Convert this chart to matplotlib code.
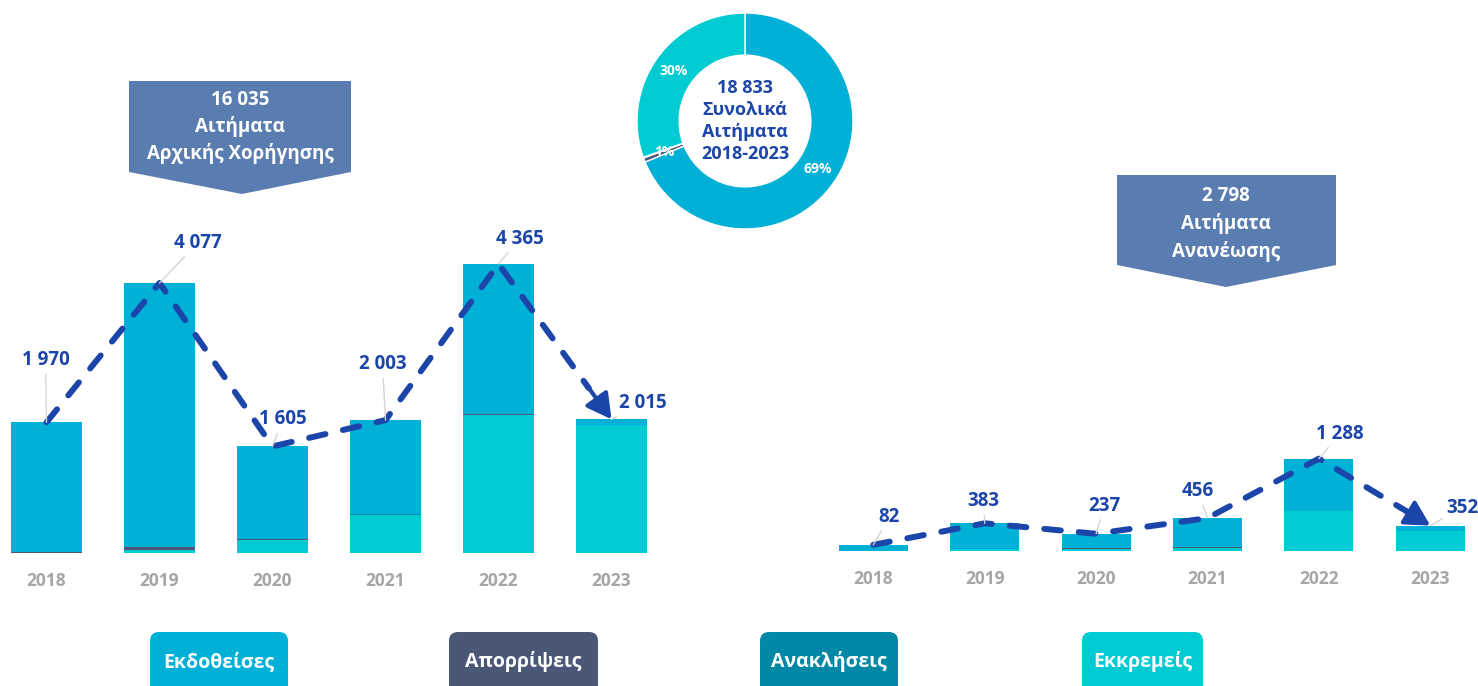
"""Αιτήματα αρχικής χορήγησης / ανανέωσης 2018-2023 - stacked bars, trend line and donut."""

import numpy as np
import matplotlib
matplotlib.use('Agg')
import matplotlib.pyplot as plt
from matplotlib import font_manager
from matplotlib.patches import Polygon, FancyBboxPatch

# pick the first family that really has a bold face installed
bold_family = 'DejaVu Sans'
for fam in ['Open Sans', 'Noto Sans', 'Lato', 'Roboto']:
    try:
        path = font_manager.findfont(font_manager.FontProperties(family=fam, weight='bold'),
                                     fallback_to_default=False)
        if 'bold' in path.lower():
            bold_family = fam
            break
    except Exception:
        pass
plt.rcParams['font.family'] = [bold_family, 'DejaVu Sans']

# ---------------------------------------------------------------------------
# Data

years = ['2018', '2019', '2020', '2021', '2022', '2023']

# initial grant requests (Αρχικής Χορήγησης)
init_issued = [1955, 3987, 1395, 1423, 2270, 80]
init_rejected = [15, 45, 15, 0, 15, 0]
init_revoked = [0, 0, 0, 20, 0, 0]
init_pending = [0, 45, 195, 560, 2080, 1935]

# renewal requests (Ανανέωσης)
ren_issued = [82, 358, 202, 401, 733, 72]
ren_rejected = [0, 0, 15, 15, 0, 0]
ren_revoked = [0, 0, 0, 0, 0, 0]
ren_pending = [0, 25, 20, 40, 555, 280]

categories = ['Εκδοθείσες', 'Απορρίψεις', 'Ανακλήσεις', 'Εκκρεμείς']

# ---------------------------------------------------------------------------
# Styling

W, H = 1478, 686
c_issued = '#00B0D6'
c_rejected = '#4A5776'
c_revoked = '#0088A6'
c_pending = '#00CAD2'
c_callout = '#5A7DB1'
c_blue = '#1C45AA'
c_year = '#A6A6A6'
cat_colors = [c_issued, c_rejected, c_revoked, c_pending]

# label offsets from the bar top, in pixels (dx, dy)
init_offsets = [(-1, 62), (38, 40), (10, 27), (-3, 56), (21, 25), (31, 16)]
ren_offsets = [(16, 28), (-1, 22), (8, 28), (-10, 27), (21, 25), (32, 18)]


def fmt(v):
    return f'{int(v):,}'.replace(',', ' ')


fig = plt.figure(figsize=(W / 100, H / 100), dpi=100)

# overlay in pixel coordinates for the callouts and legend boxes
ov = fig.add_axes([0, 0, 1, 1])
ov.set_xlim(0, W)
ov.set_ylim(H, 0)
ov.axis('off')


def draw_panel(ax, issued, rejected, revoked, pending, offsets):
    x = np.arange(len(years))
    bottom = np.zeros(len(years))
    for vals, col in [(pending, c_pending), (rejected, c_rejected),
                      (revoked, c_revoked), (issued, c_issued)]:
        vals = np.array(vals, dtype=float)
        ax.bar(x, vals, width=0.62, bottom=bottom, color=col, zorder=2)
        bottom += vals
    totals = bottom

    # dashed trend line ending in an arrow on the last year
    xe = x[-2] + 0.8 * (x[-1] - x[-2])
    ye = totals[-2] + 0.8 * (totals[-1] - totals[-2])
    ax.plot(list(x[:-1]) + [xe], list(totals[:-1]) + [ye], color=c_blue, lw=4.3,
            dashes=(2.8, 3.0), dash_capstyle='round', zorder=4)
    ax.annotate('', xy=(x[-1], totals[-1]), xytext=(xe, ye),
                arrowprops=dict(arrowstyle='-|>,head_length=1.0,head_width=0.55',
                                color=c_blue, lw=3, shrinkA=0, shrinkB=0,
                                mutation_scale=15), zorder=5)

    for i, t in enumerate(totals):
        ax.annotate(fmt(t), xy=(i, t), xytext=offsets[i], textcoords='offset pixels',
                    ha='center', va='center', fontsize=13.5, fontweight='bold',
                    color=c_blue, zorder=6,
                    arrowprops=dict(arrowstyle='-', color='#D5D5D5', lw=1,
                                    shrinkA=1, shrinkB=0))

    ax.set_xticks(x, years)
    ax.tick_params(length=0, pad=14, labelsize=12.5, labelcolor=c_year)
    for lab in ax.get_xticklabels():
        lab.set_fontweight('bold')
    ax.set_yticks([])
    for s in ax.spines.values():
        s.set_visible(False)
    ax.patch.set_visible(False)
    return totals


# ---------------------------------------------------------------------------
# Left panel: initial grant
axl = fig.add_axes([1.3 / W, (H - 552.5) / H, 666.7 / W, 317.3 / H])
axl.set_xlim(-0.4, 5.5)
axl.set_ylim(0, 4800)
init_tot = draw_panel(axl, init_issued, init_rejected, init_revoked, init_pending,
                      init_offsets)

# Right panel: renewal
axr = fig.add_axes([817.6 / W, (H - 550.7) / H, 668.4 / W, 100.1 / H])
axr.set_xlim(-0.5, 5.5)
axr.set_ylim(0, 1400)
ren_tot = draw_panel(axr, ren_issued, ren_rejected, ren_revoked, ren_pending,
                     ren_offsets)

# ---------------------------------------------------------------------------
# Donut of all requests
donut_vals = [sum(init_issued) + sum(ren_issued),
              sum(init_rejected) + sum(ren_rejected),
              sum(init_revoked) + sum(ren_revoked),
              sum(init_pending) + sum(ren_pending)]
total_all = sum(donut_vals)

dax = fig.add_axes([(745 - 108) / W, (H - 229) / H, 216 / W, 216 / H])
dax.pie(donut_vals, colors=cat_colors, startangle=90, counterclock=False,
        wedgeprops=dict(width=0.39, edgecolor='white', lw=1),
        autopct=lambda p: f'{p:.0f}%' if p >= 0.5 else '', pctdistance=0.805,
        textprops=dict(color='white', fontsize=10, fontweight='bold'))
dax.set_xlim(-1, 1)
dax.set_ylim(-1, 1)
dax.text(0, 0, f'{fmt(total_all)}\nΣυνολικά\nΑιτήματα\n2018-2023', ha='center',
         va='center', fontsize=13, fontweight='bold', color=c_blue, linespacing=1.3)

# ---------------------------------------------------------------------------
# Callouts
ov.add_patch(Polygon([(129, 81), (351, 81), (351, 172), (242, 194), (129, 172)],
                     closed=True, color=c_callout, lw=0))
ov.text(240, 127, f'{fmt(init_tot.sum())}\nΑιτήματα\nΑρχικής Χορήγησης', ha='center',
        va='center', color='white', fontsize=13.5, fontweight='bold', linespacing=1.4)

ov.add_patch(Polygon([(1117, 175), (1336, 175), (1336, 265), (1226, 287), (1117, 265)],
                     closed=True, color=c_callout, lw=0))
ov.text(1226, 224, f'{fmt(ren_tot.sum())}\nΑιτήματα\nΑνανέωσης', ha='center',
        va='center', color='white', fontsize=13.5, fontweight='bold', linespacing=1.45)

# ---------------------------------------------------------------------------
# Legend boxes along the bottom
box_x = [(150, 288), (449, 598), (760, 898), (1082, 1203)]
for name, col, (x0, x1) in zip(categories, cat_colors, box_x):
    ov.add_patch(FancyBboxPatch((x0, 632), x1 - x0, 70,
                                boxstyle='round,pad=0,rounding_size=9',
                                color=col, lw=0))
    ov.text((x0 + x1) / 2, 662, name, ha='center', va='center', color='white',
            fontsize=14, fontweight='bold')

fig.savefig('out.png', dpi=100)
